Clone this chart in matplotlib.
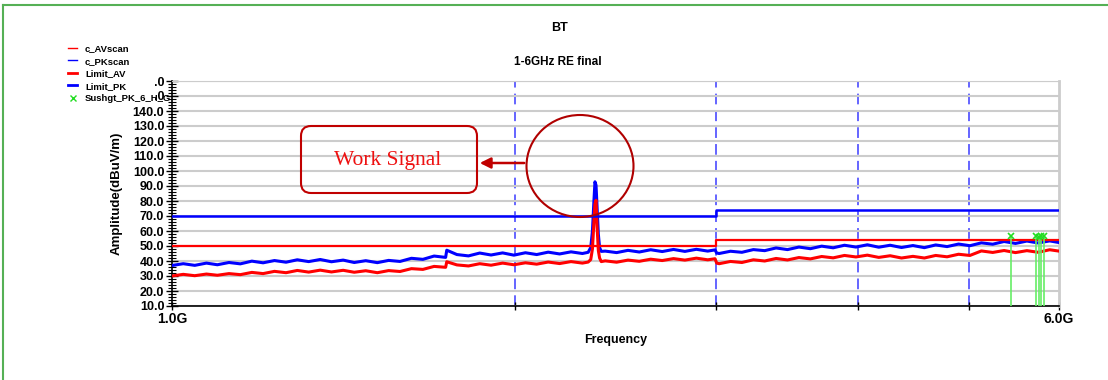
import numpy as np
import matplotlib
matplotlib.use("Agg")
import matplotlib.pyplot as plt
from matplotlib.lines import Line2D
from matplotlib.patches import FancyBboxPatch, Ellipse, FancyArrowPatch, Rectangle
from matplotlib.transforms import IdentityTransform
from matplotlib.ticker import MultipleLocator, FixedLocator

plt.rcParams['font.family'] = ['Liberation Sans', 'DejaVu Sans']

# frequency points of the scans (GHz)
freq_ghz = [1.000, 1.023, 1.047, 1.072, 1.096, 1.122, 1.148, 1.175, 1.202, 1.230,
            1.259, 1.288, 1.318, 1.349, 1.380, 1.413, 1.445, 1.479, 1.514, 1.549,
            1.585, 1.622, 1.660, 1.698, 1.738, 1.742, 1.778, 1.820, 1.862, 1.905,
            1.950, 1.995, 2.042, 2.089, 2.138, 2.188, 2.239, 2.291,
            2.318, 2.330, 2.338, 2.345, 2.350, 2.355, 2.360, 2.366, 2.372, 2.380,
            2.399, 2.455, 2.512, 2.570, 2.630, 2.692, 2.754, 2.818, 2.884, 2.951,
            2.995, 3.005, 3.020, 3.090, 3.162, 3.236, 3.311, 3.388, 3.467, 3.548,
            3.631, 3.715, 3.802, 3.890, 3.981, 4.074, 4.169, 4.266, 4.365, 4.467,
            4.571, 4.677, 4.786, 4.898, 5.012, 5.129, 5.248, 5.370, 5.495, 5.623,
            5.754, 5.888, 6.000]

pk_scan = [37.0, 38.2, 37.1, 38.6, 37.5, 39.0, 38.1, 39.9, 38.8, 40.3,
           39.2, 40.8, 39.6, 41.0, 39.5, 40.6, 39.0, 40.2, 38.9, 40.4,
           39.7, 41.8, 41.1, 43.3, 42.4, 47.2, 44.3, 43.4, 45.3, 44.0,
           45.4, 43.9, 45.5, 44.3, 45.9, 44.7, 46.1, 45.0,
           45.8, 49.0, 60.0, 80.0, 92.8, 90.5, 76.0, 58.0, 49.0, 46.4,
           46.6, 45.6, 47.1, 46.0, 47.5, 46.3, 47.7, 46.4, 47.8, 46.6,
           47.4, 45.3, 45.0, 46.5, 45.8, 47.6, 46.9, 48.7, 47.6, 49.3,
           48.2, 49.9, 48.8, 50.5, 49.3, 50.8, 49.2, 50.5, 49.0, 50.3,
           48.9, 50.7, 49.6, 51.3, 50.2, 52.1, 51.2, 53.0, 51.7, 53.3,
           52.0, 53.4, 52.3]

av_scan = [30.0, 31.1, 30.2, 31.3, 30.5, 31.6, 30.9, 32.4, 31.6, 33.1,
           32.2, 33.7, 32.6, 33.9, 32.7, 33.8, 32.5, 33.5, 32.2, 33.6,
           33.0, 34.9, 34.4, 36.4, 35.8, 39.5, 37.4, 36.7, 38.2, 37.2,
           38.6, 37.5, 38.8, 37.9, 39.3, 38.3, 39.6, 38.6,
           39.3, 41.0, 48.0, 66.0, 78.0, 80.5, 63.0, 47.0, 42.0, 39.6,
           40.1, 39.2, 40.6, 39.8, 41.2, 40.3, 41.6, 40.6, 41.9, 40.8,
           41.5, 38.6, 38.2, 39.7, 39.0, 40.8, 40.0, 41.7, 40.7, 42.3,
           41.4, 43.0, 42.1, 43.7, 42.7, 43.9, 42.4, 43.5, 42.0, 43.1,
           42.0, 43.7, 42.8, 44.5, 43.7, 46.7, 45.7, 47.0, 45.6, 46.9,
           45.8, 47.5, 46.6]

limit_f = [1.0, 3.0, 6.0]
limit_av = [50, 54, 54]
limit_pk = [70, 74, 74]

sus_f = [5.45, 5.73, 5.76, 5.78, 5.82]
sus_v = [56.5, 56.8, 56.3, 57.0, 56.6]

fig = plt.figure(figsize=(11.08, 3.8), dpi=100)
W, H = 1108.0, 380.0
ax = fig.add_axes([172 / W, 1 - 306 / H, (1059 - 172) / W, 225 / H])

ax.set_xscale('log')
ax.set_xlim(1.0, 6.0)
ax.set_ylim(10, 160)

ax.yaxis.set_major_locator(MultipleLocator(10))
ax.yaxis.set_minor_locator(MultipleLocator(2))
ax.yaxis.set_major_formatter(plt.FuncFormatter(lambda v, p: '%.1f' % v))
ax.xaxis.set_major_locator(FixedLocator([1, 2, 3, 4, 5, 6]))
ax.xaxis.set_minor_locator(FixedLocator([]))
ax.set_xticklabels(['1.0G', '', '', '', '', '6.0G'])

ax.grid(axis='y', color='#cccccc', lw=1.5)
for f in [2, 3, 4, 5]:
    ax.axvline(f, color='#3a3aff', lw=1.1, dashes=(7, 4), zorder=1)

ax.tick_params(axis='y', which='major', direction='inout', length=9, width=1,
               labelsize=9, pad=1)
ax.tick_params(axis='y', which='minor', direction='inout', length=6, width=0.8)
ax.tick_params(axis='x', which='major', direction='inout', length=6, width=1,
               labelsize=10, pad=1)
for lab in ax.get_yticklabels() + ax.get_xticklabels():
    lab.set_fontweight('bold')

ax.spines['top'].set_color('#cccccc')
ax.spines['right'].set_color('#cccccc')
ax.spines['right'].set_linewidth(2)
ax.spines['left'].set_linewidth(1.2)
ax.spines['bottom'].set_linewidth(1.2)

ax.plot(freq_ghz, pk_scan, color='#0000ff', lw=2.2, zorder=3)
ax.plot(freq_ghz, av_scan, color='#ff0000', lw=2.2, zorder=3.5)
ax.plot(limit_f, limit_av, color='#ff0000', lw=1.6, drawstyle='steps-post', zorder=4)
ax.plot(limit_f, limit_pk, color='#0000ff', lw=1.8, drawstyle='steps-post', zorder=4)
ax.vlines(sus_f, 10, sus_v, color='#66ee66', lw=1.2, zorder=5)
ax.plot(sus_f, sus_v, 'x', color='#22dd22', ms=5, mew=1.2, zorder=6)

ax.set_ylabel('Amplitude(dBuV/m)', fontsize=9.5, fontweight='bold', labelpad=7)
ax.set_xlabel('Frequency', fontsize=9, fontweight='bold', labelpad=6)

fig.text(560 / W, 1 - 28 / H, 'BT', ha='center', va='center', fontsize=9, fontweight='bold')
fig.text(558 / W, 1 - 62 / H, '1-6GHz RE final', ha='center', va='center',
         fontsize=8.5, fontweight='bold')

# white area behind legend hides the top tick labels like in the original
fig.add_artist(Rectangle((40 / W, 1 - 104 / H), 115 / W, 64 / H, transform=fig.transFigure,
                         facecolor='white', edgecolor='none', zorder=1))

handles = [Line2D([], [], color='#ff0000', lw=1),
           Line2D([], [], color='#0000ff', lw=1),
           Line2D([], [], color='#ff0000', lw=2),
           Line2D([], [], color='#0000ff', lw=2),
           Line2D([], [], color='#22dd22', ls='none', marker='x', ms=4)]
labels = ['c_AVscan', 'c_PKscan', 'Limit_AV', 'Limit_PK', 'Sushgt_PK_6_H_G']
fig.legend(handles, labels, loc='upper left', bbox_to_anchor=(68 / W, 1 - 44 / H),
           frameon=False, prop={'size': 6.8, 'weight': 'bold'}, handlelength=1.0,
           handletextpad=0.8, labelspacing=0.38, borderpad=0, borderaxespad=0)

# annotation around the work signal
idt = IdentityTransform()
fig.add_artist(FancyBboxPatch((301, H - 193), 176, 67,
                              boxstyle='round,pad=0,rounding_size=10',
                              ec='#c00000', fc='none', lw=1.5, transform=idt))
fig.text(388 / W, 1 - 160 / H, 'Work Signal', ha='center', va='center',
         family='Liberation Serif', fontsize=15.5, color='#ee1111')
fig.add_artist(Ellipse((580, H - 166), 107, 102, ec='#b00000', fc='none', lw=1.5,
                       transform=idt))
fig.add_artist(FancyArrowPatch((527, H - 163), (477, H - 163), arrowstyle='-|>',
                               mutation_scale=16, color='#c00000', lw=1.8,
                               transform=idt))

# green frame
fig.add_artist(Line2D([3 / W, 3 / W], [0, 1 - 5 / H], color='#55b055', lw=1.5,
                      transform=fig.transFigure))
fig.add_artist(Line2D([3 / W, 1], [1 - 5 / H, 1 - 5 / H], color='#55b055', lw=1.5,
                      transform=fig.transFigure))

fig.savefig('out.png', dpi=100)
